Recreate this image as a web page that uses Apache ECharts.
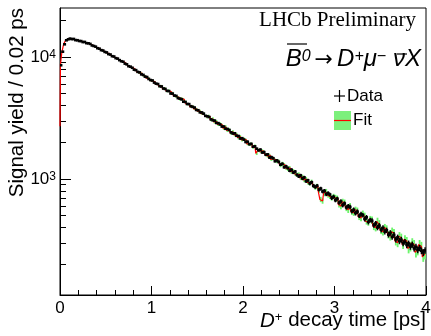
<!DOCTYPE html>
<html><head><meta charset="utf-8">
<script src="https://cdn.jsdelivr.net/npm/echarts@6/dist/echarts.min.js"></script>
<style>html,body{margin:0;padding:0;background:#fff}#c{width:431px;height:336px}</style>
</head><body><div id="c"></div>
<script>
const binWidth = 0.02;
const xTicks = [0, 1, 2, 3, 4];
const yMajor = [1000, 10000];
const yMinor = [200,300,400,500,600,700,800,900,2000,3000,4000,5000,6000,7000,8000,9000,20000];
const dataYield = [8550,11050,12700,13700,13950,14150,14000,14050,13750,13720,
13520,13500,13250,13280,12980,12950,12800,12430,12300,12150,
11800,11700,11380,11300,11000,10900,10560,10480,10150,10090,
9780,9700,9420,9230,9150,8820,8700,8400,8330,8160,
7870,7800,7550,7480,7200,7130,6900,6850,6600,6470,
6420,6170,6050,6000,5760,5730,5520,5470,5280,5250,
5020,5010,4830,4800,4600,4560,4490,4300,4280,4120,
4110,3950,3900,3850,3680,3660,3520,3510,3430,3290,
3270,3220,3080,3030,3010,2880,2870,2800,2690,2690,
2580,2570,2520,2410,2360,2370,2260,2250,2150,2160,
2100,2010,2020,1930,1940,1840,1850,1770,1720,1740,
1650,1660,1580,1590,1500,1510,1480,1400,1420,1380,
1310,1330,1250,1270,1230,1170,1190,1130,1150,1080,
1050,1070,1010,1030,960,975,920,940,880,860,
880,820,835,790,800,750,765,745,700,715,
670,690,640,655,610,630,585,600,590,545,
560,525,540,500,515,505,470,485,445,460,
455,418,432,400,415,385,398,370,380,350,
362,335,348,320,332,310,318,298,306,288,
296,280,290,270,278,262,272,258,250,260];
const dataErr = [92,105,113,117,118,119,118,119,117,117,
116,116,115,115,114,114,113,111,111,110,
109,108,107,106,105,104,103,102,101,100,
99,98,97,96,96,94,93,92,91,90,
89,88,87,86,85,84,83,83,81,80,
80,79,78,77,76,76,74,74,73,72,
71,71,69,69,68,68,67,66,65,64,
64,63,62,62,61,60,59,59,59,57,
57,57,55,55,55,54,54,53,52,52,
51,51,50,49,49,49,48,47,46,46,
46,45,45,44,44,43,43,42,41,42,
41,41,40,40,39,39,38,37,38,37,
36,36,35,36,35,34,34,34,34,33,
32,33,32,32,31,31,30,31,30,29,
30,29,29,28,28,27,28,27,26,27,
26,26,25,26,25,25,24,24,24,23,
24,23,23,22,23,22,22,22,21,21,
21,20,21,20,20,20,20,19,19,19,
19,18,19,18,18,18,18,17,17,17,
17,17,17,16,17,16,16,16,16,16];
const fitStart = 2700;
const fitYield = [8700,10900,12750,13650,14050,14100,14080,13950,13820,13680,
13620,13420,13330,13180,13080,12920,12750,12480,12310,12040,
11890,11630,11480,11220,11080,10810,10660,10400,10250,9990,
9860,9610,9480,9240,9120,8800,8780,8450,8250,8180,
7900,7820,7520,7400,7330,7050,6990,6720,6700,6430,
6380,6250,6010,5990,5730,5790,5480,5520,5250,5310,
5150,5080,4820,4720,4700,4490,4580,4480,4300,4100,
4120,3900,3950,3760,3760,3600,3620,3430,3450,3300,
3230,3260,3060,3110,2930,2960,2800,2830,2750,2600,
2680,2500,2540,2380,2440,2300,2320,2180,2230,2090,
2120,2080,1950,1920,1930,1820,1860,1620,1720,1690,
1700,1660,1580,1540,1560,1450,1470,1430,1390,1400,
1300,1330,1300,1240,1210,1230,1150,1160,1110,1080,
1090,1020,1040,980,1000,940,920,950,880,850,
870,810,680,660,760,790,740,720,700,720,
700,690,620,600,650,640,580,560,600,540,
530,560,550,490,480,520,500,450,440,470,
460,410,400,450,430,380,370,400,390,350,
340,370,360,310,300,340,330,290,320,310,
270,280,300,290,250,260,290,280,230,240];
const fitErrPct = [1,1,1,1,1,1,1,1,1,1, 1,1,1,1,1,1,1,1,1,1,
1,1,1,1,1,1,1,1,1,1, 1,1,1,1,1,1,1,1,1,1,
2,2,2,2,2,2,2,2,2,2, 2,2,2,2,2,2,2,2,2,2,
2,2,2,2,2,2,2,2,2,2, 2,2,2,2,2,2,2,2,2,2,
3,3,3,3,3,3,3,3,3,3, 3,3,3,3,3,3,3,3,3,3,
3,3,3,3,3,3,3,3,3,3, 3,3,3,3,3,3,3,3,3,3,
4,4,4,4,4,4,4,4,4,4, 4,4,4,4,4,4,4,4,4,4,
5,5,5,5,5,5,5,5,5,5, 6,6,6,6,6,6,6,6,6,6,
6,6,6,6,6,6,6,6,6,6, 7,7,7,7,7,7,7,7,7,7,
8,8,8,8,8,8,8,8,8,8, 9,9,9,9,9,9,9,9,9,9];

const centers = dataYield.map((_, i) => +(binWidth * (i + 0.5)).toFixed(3));
const SANS = 'Liberation Sans';

const chart = echarts.init(document.getElementById('c'), null, {renderer: 'canvas'});
const yAxisBase = {type: 'log', logBase: 10, min: 112, max: 25200, splitLine: {show: false}, minorTick: {show: false}};
chart.setOption({
  animation: false,
  backgroundColor: '#fff',
  grid: {left: 60, right: 5, top: 8, bottom: 41, show: true, borderColor: '#000', borderWidth: 1, containLabel: false, outerBoundsMode: 'none'},
  xAxis: {
    type: 'value', min: 0, max: 4, interval: 1,
    axisLine: {show: true, lineStyle: {color: '#000', width: 1}},
    axisTick: {show: true, inside: true, length: 9, lineStyle: {color: '#000'}, customValues: xTicks},
    minorTick: {show: true, splitNumber: 5, length: 5, lineStyle: {color: '#000'}},
    splitLine: {show: false},
    axisLabel: {color: '#000', fontFamily: SANS, fontSize: 17, margin: 5, customValues: xTicks}
  },
  yAxis: [
    Object.assign({}, yAxisBase, {
      axisLine: {show: true, lineStyle: {color: '#000', width: 1}},
      axisTick: {show: true, inside: true, length: 11, lineStyle: {color: '#000'}, customValues: yMajor},
      axisLabel: {
        customValues: yMajor, margin: 4,
        formatter: v => '{b|10}{s|' + Math.round(Math.log10(v)) + '}',
        rich: {
          b: {fontFamily: SANS, fontSize: 17, color: '#000', lineHeight: 17, padding: [4, 0, 0, 0], verticalAlign: 'bottom'},
          s: {fontFamily: SANS, fontSize: 12, color: '#000', lineHeight: 12, verticalAlign: 'top'}
        }
      }
    }),
    Object.assign({}, yAxisBase, {
      position: 'left',
      axisLine: {show: false},
      axisTick: {show: true, inside: true, length: 6, lineStyle: {color: '#000'}, customValues: yMinor},
      axisLabel: {show: false}
    })
  ],
  series: [
    {
      type: 'custom', name: 'FitBand', z: 1, clip: true,
      data: fitYield.map((f, i) => [centers[i], f * (1 - fitErrPct[i] / 100), f * (1 + fitErrPct[i] / 100)]),
      encode: {x: 0, y: [1, 2]},
      renderItem: (params, api) => {
        const x = api.value(0);
        const p1 = api.coord([x - binWidth / 2, api.value(2)]);
        const p2 = api.coord([x + binWidth / 2, api.value(1)]);
        return {type: 'rect', shape: {x: p1[0], y: p1[1], width: p2[0] - p1[0], height: p2[1] - p1[1]},
          style: {fill: '#6cf56c'}};
      }
    },
    {
      type: 'line', name: 'Fit', z: 2, step: 'middle', showSymbol: false, clip: true,
      data: [[0, fitStart]].concat(fitYield.map((f, i) => [centers[i], f])),
      lineStyle: {color: '#ff0000', width: 1.2}
    },
    {
      type: 'custom', name: 'Data', z: 3, clip: true,
      data: dataYield.map((v, i) => [centers[i], v, dataErr[i]]),
      encode: {x: 0, y: 1},
      renderItem: (params, api) => {
        const x = api.value(0), y = api.value(1), e = api.value(2);
        const c = api.coord([x, y]);
        const top = api.coord([x, y + e]);
        const bot = api.coord([x, y - e]);
        const l = api.coord([x - binWidth / 2, y]);
        const r = api.coord([x + binWidth / 2, y]);
        return {type: 'group', children: [
          {type: 'line', shape: {x1: c[0], y1: top[1], x2: c[0], y2: bot[1]}, style: {stroke: '#000', lineWidth: 1.5}},
          {type: 'rect', shape: {x: l[0] - 0.6, y: c[1] - 1.3, width: r[0] - l[0] + 1.2, height: 2.6}, style: {fill: '#000'}}
        ]};
      }
    }
  ],
  graphic: [
    {type: 'text', x: 17, y: 8, rotation: Math.PI / 2,
      style: {text: 'Signal yield / 0.02 ps', fontFamily: SANS, fontSize: 20.5, fill: '#000', align: 'right', verticalAlign: 'middle'}},
    {type: 'text', x: 426, y: 331,
      style: {text: '{i|D}{s|+}{n| decay time [ps]}', align: 'right', verticalAlign: 'bottom',
        rich: {
          i: {fontFamily: SANS, fontStyle: 'italic', fontSize: 20.5, fill: '#000', lineHeight: 20, padding: [5, 0, 0, 0], verticalAlign: 'bottom'},
          s: {fontFamily: SANS, fontSize: 13, fill: '#000', lineHeight: 13, verticalAlign: 'top'},
          n: {fontFamily: SANS, fontSize: 20.5, fill: '#000', lineHeight: 20, padding: [5, 0, 0, 0], verticalAlign: 'bottom'}
        }}},
    {type: 'text', x: 416, y: 20,
      style: {text: 'LHCb Preliminary', fontFamily: 'Liberation Serif', fontSize: 21, fill: '#000', align: 'right', verticalAlign: 'middle'}},
    {type: 'text', x: 421, y: 71,
      style: {text: '{i|B}{s|0}{a|→}{i|D}{s|+}{i|μ}{s|−}{g| }{i|ν}{i|X}', align: 'right', verticalAlign: 'bottom',
        rich: {
          i: {fontFamily: SANS, fontStyle: 'italic', fontSize: 24, fill: '#000', lineHeight: 22, padding: [6, 0, 0, 0], verticalAlign: 'bottom'},
          a: {fontFamily: 'DejaVu Sans', fontSize: 22, fill: '#000', lineHeight: 22, padding: [6, 4, 0, 4], verticalAlign: 'bottom'},
          s: {fontFamily: SANS, fontStyle: 'italic', fontSize: 16, fill: '#000', lineHeight: 15, verticalAlign: 'top'},
          g: {fontFamily: SANS, fontSize: 10, fill: '#000', lineHeight: 10, padding: [0, 4, 0, 0], verticalAlign: 'bottom'}
        }}},
    {type: 'line', shape: {x1: 287, y1: 44, x2: 307, y2: 44}, style: {stroke: '#000', lineWidth: 1.2}},
    {type: 'line', shape: {x1: 397, y1: 54, x2: 407, y2: 54}, style: {stroke: '#000', lineWidth: 1.2}},
    {type: 'line', shape: {x1: 334, y1: 96, x2: 345, y2: 96}, style: {stroke: '#000', lineWidth: 1.2}},
    {type: 'line', shape: {x1: 339.5, y1: 90, x2: 339.5, y2: 102}, style: {stroke: '#000', lineWidth: 1.2}},
    {type: 'text', x: 347, y: 96, style: {text: 'Data', fontFamily: SANS, fontSize: 17, fill: '#000', align: 'left', verticalAlign: 'middle'}},
    {type: 'rect', shape: {x: 334, y: 111, width: 17, height: 19}, style: {fill: '#7cf07c'}},
    {type: 'line', shape: {x1: 334, y1: 120.5, x2: 351, y2: 120.5}, style: {stroke: '#ff0000', lineWidth: 1.2}},
    {type: 'text', x: 353, y: 120, style: {text: 'Fit', fontFamily: SANS, fontSize: 17, fill: '#000', align: 'left', verticalAlign: 'middle'}}
  ]
});
</script></body></html>
